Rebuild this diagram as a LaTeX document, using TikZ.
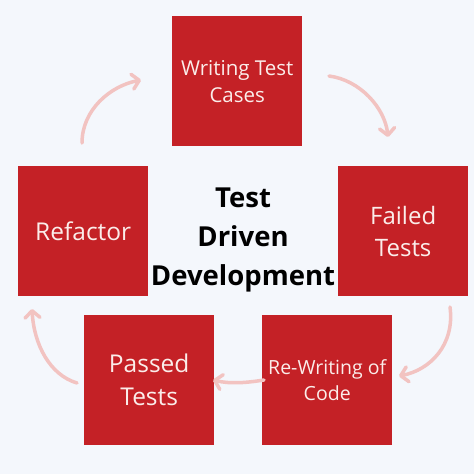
\documentclass[tikz,border=0pt]{standalone}
\usepackage{fontspec}
\setmainfont{Open Sans}
\usetikzlibrary{arrows.meta}
\definecolor{bg}{HTML}{F4F7FC}
\definecolor{boxred}{HTML}{C42126}
\definecolor{boxtext}{HTML}{FBEDEA}
\definecolor{arr}{HTML}{F2C3C1}
\begin{document}
\begin{tikzpicture}[x=1pt,y=-1pt,
  stepbox/.style={fill=boxred,minimum width=130pt,minimum height=130pt,inner sep=0pt,
    text=boxtext,align=center,anchor=north west},
  cyc/.style={draw=arr,line width=3.5pt,line cap=round,
    -{Straight Barb[length=7pt,width=15pt,line width=3.5pt,round]}}]
\fill[bg] (0,0) rectangle (474,474);
\useasboundingbox (0,0) rectangle (474,474);
\node[stepbox,font=\fontsize{20.5}{27}\selectfont] (write) at (172,16) {Writing Test\\Cases};
\node[stepbox,font=\fontsize{24}{32}\selectfont] (fail) at (338,166) {Failed\\Tests};
\node[stepbox,font=\fontsize{19.5}{26}\selectfont] (rewrite) at (262,315) {Re-Writing of\\Code};
\node[stepbox,font=\fontsize{24.5}{33}\selectfont] (pass) at (84,315) {Passed\\Tests};
\node[stepbox,font=\fontsize{24.5}{32}\selectfont] (refac) at (18,166) {Refactor};
\node[font=\bfseries\fontsize{27.5}{39}\selectfont,align=center,text=black] (title) at (243,240) {Test\\Driven\\Development};
\coordinate (a1s) at (82,143); \coordinate (a1e) at (141,80);
\coordinate (a2s) at (329,76); \coordinate (a2e) at (388,137);
\coordinate (a3s) at (450,307); \coordinate (a3e) at (399,376);
\coordinate (a4s) at (264,380); \coordinate (a4e) at (213,380);
\coordinate (a5s) at (77,383); \coordinate (a5e) at (32,309);
\draw[cyc] (a1s) .. controls (82,110) and (110,86) .. (a1e);
\draw[cyc] (a2s) .. controls (360,80) and (385,108) .. (a2e);
\draw[cyc] (a3s) .. controls (455,345) and (430,370) .. (a3e);
\draw[cyc] (a4s) .. controls (245,383) and (230,384) .. (a4e);
\draw[cyc] (a5s) .. controls (50,375) and (34,345) .. (a5e);
\end{tikzpicture}
\end{document}
